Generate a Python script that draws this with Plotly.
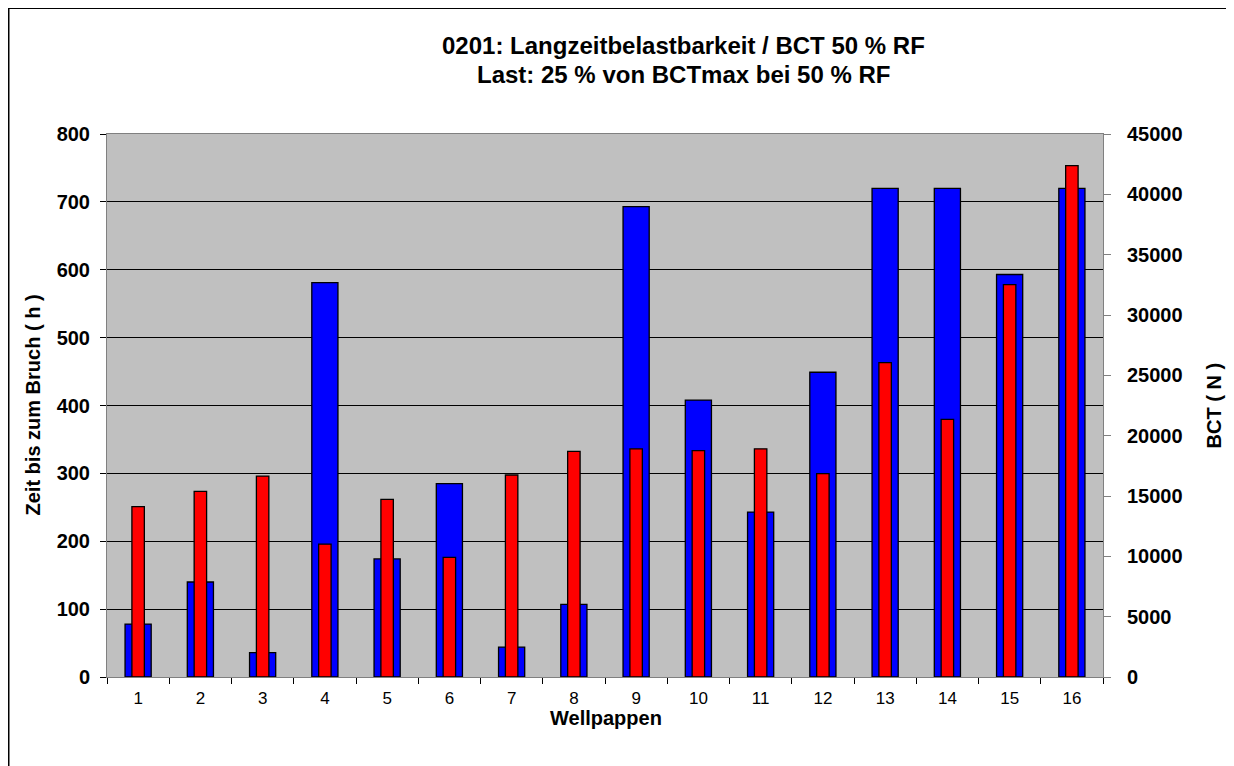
import plotly.graph_objects as go

categories = [str(i) for i in range(1, 17)]
zeit_h = [78, 140, 36, 581, 174, 285, 44, 107, 693, 408, 243, 449, 720, 720, 593, 720]
bct_n = [14120, 15380, 16650, 11010, 14720, 9920, 16740, 18700, 18910, 18760, 18910, 16860, 26060, 21350, 32510, 42380]

left_ticks = list(range(0, 801, 100))
right_ticks = list(range(0, 45001, 5000))

title_lines = ["0201: Langzeitbelastbarkeit / BCT 50 % RF", "Last: 25 % von BCTmax bei 50 % RF"]

# page body adds an 8px margin, so the figure is a bit smaller than the window
W, H = 1226, 758
L, R, T, B = 99, 1095, 126, 669
pw, ph = R - L, B - T

def px(xf):
    return (xf - L) / pw

def py(yf):
    return (B - yf) / ph

fig = go.Figure()
fig.add_trace(go.Bar(
    x=categories, y=zeit_h, name="Zeit bis zum Bruch",
    marker=dict(color="#0000FF", line=dict(color="#000000", width=1.3)),
    width=0.42, yaxis="y", offsetgroup="a",
))
fig.add_trace(go.Bar(
    x=categories, y=bct_n, name="BCT",
    marker=dict(color="#FF0000", line=dict(color="#000000", width=1.3)),
    width=0.2, yaxis="y2", offsetgroup="a",
))

font = "Liberation Sans, Arial, sans-serif"

fig.update_layout(
    width=W, height=H,
    margin=dict(l=L, r=W - R, t=T, b=H - B, pad=0),
    paper_bgcolor="white", plot_bgcolor="#C0C0C0",
    barmode="overlay", showlegend=False,
    font=dict(family=font, color="black"),
    xaxis=dict(
        type="category", tickson="boundaries", ticks="outside", ticklen=6,
        tickcolor="#000000", showline=True, linecolor="#808080", linewidth=1,
        mirror=True, showgrid=False, range=[-0.5, 15.5],
        tickfont=dict(size=17, family=font), ticklabelstandoff=6,
    ),
    yaxis=dict(
        range=[0, 800], tickvals=left_ticks, ticks="outside", ticklen=6,
        tickcolor="#000000", showline=True, linecolor="#808080", linewidth=1,
        showgrid=True, gridcolor="#000000", gridwidth=1, zeroline=False,
        tickfont=dict(size=20, family=font, weight="bold"), ticklabelstandoff=6,
    ),
    yaxis2=dict(
        range=[0, 45000], tickvals=right_ticks, tickformat="d",
        overlaying="y", side="right",
        ticks="outside", ticklen=7, tickcolor="#808080", showline=True,
        linecolor="#808080", linewidth=1, showgrid=False, zeroline=False,
        tickfont=dict(size=20, family=font, weight="bold"), ticklabelstandoff=12,
    ),
    annotations=[
        dict(text="<b>" + title_lines[0] + "</b>", xref="paper", yref="paper",
             x=px(675), y=py(37), showarrow=False,
             xanchor="center", yanchor="middle", font=dict(size=24, family=font)),
        dict(text="<b>" + title_lines[1] + "</b>", xref="paper", yref="paper",
             x=px(675), y=py(66), showarrow=False,
             xanchor="center", yanchor="middle", font=dict(size=24, family=font)),
        dict(text="<b>Zeit bis zum Bruch ( h )</b>", xref="paper", yref="paper",
             x=px(24), y=0.5, textangle=-90, showarrow=False,
             xanchor="center", yanchor="middle", font=dict(size=20, family=font)),
        dict(text="<b>BCT ( N )</b>", xref="paper", yref="paper",
             x=px(1205), y=0.5, textangle=-90, showarrow=False,
             xanchor="center", yanchor="middle", font=dict(size=20, family=font)),
        dict(text="<b>Wellpappen</b>", xref="paper", yref="paper",
             x=px(598), y=py(710), showarrow=False,
             xanchor="center", yanchor="middle", font=dict(size=20, family=font)),
    ],
    shapes=[dict(
        type="rect", xref="paper", yref="paper",
        x0=px(0.5), x1=px(W + 10),
        y0=py(H + 10), y1=py(0),
        line=dict(color="black", width=2), fillcolor="rgba(0,0,0,0)", layer="below",
    )],
)

fig.write_html("out.html")
